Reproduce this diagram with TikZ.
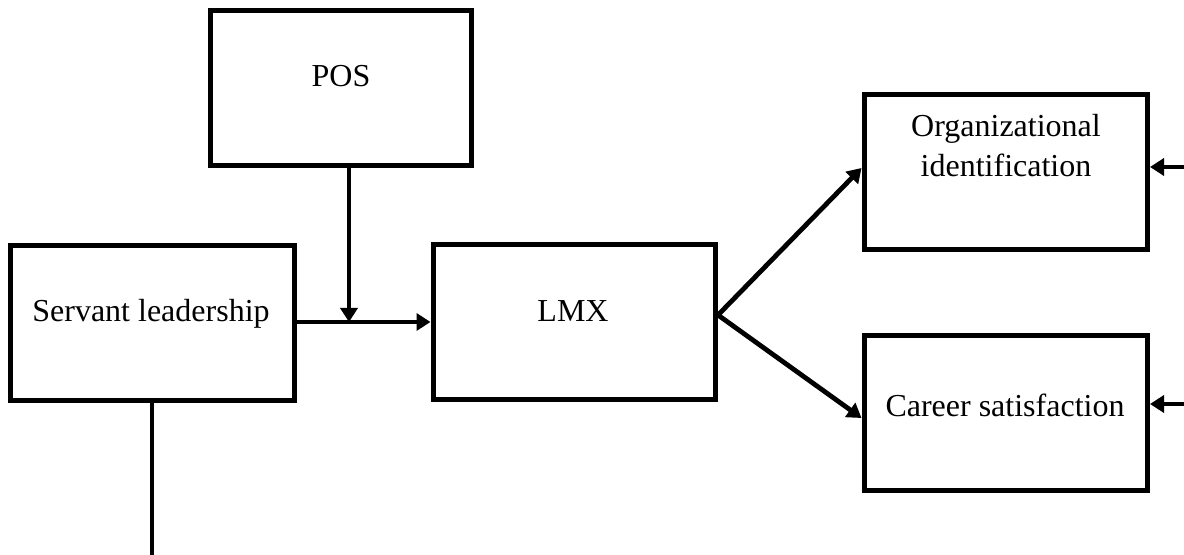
\documentclass[tikz,border=0pt]{standalone}
\usepackage{fontspec}
\setmainfont{Liberation Serif}
\usetikzlibrary{arrows.meta}
\begin{document}
\begin{tikzpicture}[x=0.5pt,y=-0.5pt,
  box/.style={draw=black, line width=2.5pt, rectangle, inner sep=0pt},
  lbl/.style={font=\fontsize{16}{20}\selectfont, inner sep=0pt, anchor=base, align=center},
  conn/.style={line width=2.4pt},
  arr/.style={conn, -{Triangle[length=7pt,width=8.5pt]}}]
\useasboundingbox (0,0) rectangle (1184,555);
% boxes
\node[box, minimum width=130.25pt, minimum height=77.5pt] (pos) at (340.75,88) {};
\node[box, minimum width=142pt, minimum height=77.75pt] (srv) at (152.5,323.25) {};
\node[box, minimum width=141.25pt, minimum height=77.25pt] (lmx) at (574.25,322.25) {};
\node[box, minimum width=141.75pt, minimum height=77.5pt] (org) at (1005.75,172) {};
\node[box, minimum width=141.75pt, minimum height=77.5pt] (car) at (1005.75,413) {};
% labels
\node[lbl] (posT) at (341,87) {POS};
\node[lbl] (srvT) at (151,322) {Servant leadership};
\node[lbl] (lmxT) at (573,322) {LMX};
\node[lbl] (orgT) at (1006,177) {Organizational\\identification};
\node[lbl] (carT) at (1005,417) {Career satisfaction};
% coordinates
\coordinate (j) at (349,322);
\coordinate (r1) at (1184,167);
\coordinate (r2) at (1184,404);
\coordinate (b) at (152,555);
% connectors
\draw[arr] (srv.east |- j) -- (lmx.west |- j);
\draw[arr] (pos.south -| j) -- (j);
\draw[arr] ([yshift=3.6pt]lmx.east) -- ([yshift=2pt]org.west);
\draw[arr] ([yshift=3.6pt]lmx.east) -- ([yshift=-2.5pt]car.west);
\draw[arr] (r1) -- (org.east |- r1);
\draw[arr] (r2) -- (car.east |- r2);
\draw[conn] (srv.south -| b) -- (b);
\end{tikzpicture}
\end{document}
